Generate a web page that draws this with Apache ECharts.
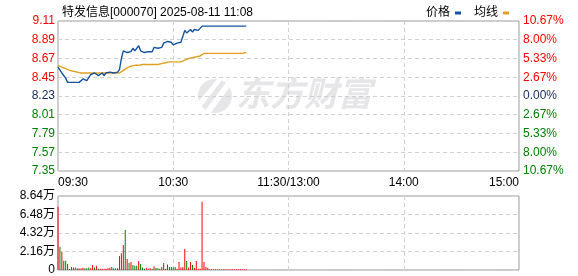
<!DOCTYPE html>
<html><head><meta charset="utf-8">
<script src="https://cdn.jsdelivr.net/npm/echarts@6/dist/echarts.min.js"></script>
<style>html,body{margin:0;padding:0;background:#fff}#c{width:578px;height:276px}</style>
</head><body><div id="c"></div>
<script>
const titleText = '特发信息[000070] 2025-08-11 11:08';
const preClose = 8.23;
const xTickLabels = ['09:30', '10:30', '11:30/13:00', '14:00', '15:00'];
const priceTicks = ['7.35','7.57','7.79','8.01','8.23','8.45','8.67','8.89','9.11'];
const pctTicks = ['10.67%','8.00%','5.33%','2.67%','0.00%','2.67%','5.33%','8.00%','10.67%'];
const volTicks = ['0','2.16万','4.32万','6.48万','8.64万'];

const price = [
 8.57,8.59,8.50,8.51,8.44,8.39,8.40,8.39,8.38,8.39,
 8.38,8.39,8.41,8.43,8.42,8.41,8.39,8.48,8.50,8.50,
 8.49,8.47,8.46,8.50,8.47,8.50,8.48,8.51,8.53,8.50,
 8.50,8.51,8.54,8.67,8.76,8.77,8.74,8.74,8.75,8.79,
 8.76,8.77,8.82,8.76,8.77,8.74,8.76,8.75,8.73,8.75,
 8.80,8.79,8.79,8.79,8.80,8.85,8.84,8.87,8.85,8.86,
 8.83,8.82,8.85,8.84,8.86,8.88,9.00,8.97,8.98,9.01,
 8.98,9.01,8.99,9.00,8.98,9.05,9.05,9.05,9.05,9.05,
 9.05,9.05,9.05,9.05,9.05,9.05,9.05,9.05,9.05,9.05,
 9.05,9.05,9.05,9.05,9.05,9.05,9.05,9.05,9.05
];
const avgLine = [
 8.59,8.58,8.57,8.56,8.55,8.54,8.53,8.53,8.52,8.52,
 8.51,8.51,8.50,8.50,8.50,8.50,8.50,8.50,8.50,8.50,
 8.50,8.50,8.50,8.50,8.50,8.50,8.50,8.50,8.50,8.50,
 8.50,8.50,8.50,8.51,8.53,8.55,8.56,8.57,8.58,8.58,
 8.59,8.59,8.59,8.60,8.60,8.60,8.60,8.60,8.60,8.60,
 8.60,8.60,8.60,8.61,8.61,8.62,8.62,8.62,8.63,8.63,
 8.63,8.63,8.63,8.63,8.63,8.64,8.65,8.66,8.67,8.67,
 8.68,8.68,8.69,8.69,8.70,8.72,8.73,8.73,8.73,8.73,
 8.73,8.73,8.73,8.73,8.73,8.73,8.73,8.73,8.73,8.73,
 8.73,8.73,8.73,8.73,8.73,8.73,8.73,8.73,8.74
];
// volume in 万 shares
const volume = [
 7.39,2.72,2.14,1.09,1.09,0.70,0.12,0.35,0.30,0.30,
 0.20,0.20,0.20,0.25,0.20,0.20,0.30,0.20,0.58,0.30,
 0.50,0.15,0.15,0.15,0.15,0.15,0.20,0.25,0.35,0.20,
 0.20,0.20,1.63,1.95,2.92,4.67,1.28,0.82,0.93,0.58,
 0.50,0.50,1.05,0.70,0.30,0.15,0.25,0.15,0.20,0.15,
 0.45,0.25,0.20,0.15,0.35,0.82,0.15,0.65,0.35,0.35,
 0.30,0.35,0.15,0.93,0.30,0.35,2.45,1.05,0.30,0.93,
 0.58,0.25,1.05,0.15,0.15,7.97,0.93,0.35,0.25,0.10,
 0.10,0.10,0.10,0.10,0.10,0.10,0.10,0.10,0.10,0.10,
 0.10,0.10,0.10,0.10,0.10,0.10,0.10,0.10,0.10
];
// 'u' = up (red), 'd' = down (green)
const volDir = [
 'u','d','u','d','d','u','d','d','u','d',
 'd','u','u','u','d','d','d','u','u','d',
 'u','d','u','u','u','u','u','u','d','d',
 'd','u','u','u','u','d','u','d','u','d',
 'd','d','u','d','d','d','u','u','u','d',
 'u','d','d','u','d','u','u','u','d','d',
 'd','d','u','u','u','u','u','d','u','u',
 'd','u','u','u','u','u','u','u','u','u',
 'u','u','u','u','u','u','u','u','u','u',
 'u','u','u','u','u','u','u','u','u'
];

const RED = '#ff0000', GREEN = '#008000', NEUTRAL = '#14285a';
const FONT = '"Liberation Sans", Arial, "Noto Sans CJK SC", sans-serif';
function levelColor(v) {
  if (Math.abs(v - preClose) < 0.005) return NEUTRAL;
  return v > preClose ? RED : GREEN;
}

const chart = echarts.init(document.getElementById('c'), null, {renderer: 'canvas'});
const dashed = {show: true, lineStyle: {color: '#d0d0d0', type: [4, 3], width: 1}};
const WM = '#e6e6e9';

chart.setOption({
  animation: false,
  backgroundColor: '#fff',
  title: {
    text: titleText, left: 57, top: 2,
    textStyle: {fontSize: 12, fontWeight: 'normal', color: '#000', fontFamily: FONT}
  },
  legend: {
    right: 64, top: 2, align: 'right', itemWidth: 6, itemHeight: 3, itemGap: 13,
    icon: 'rect',
    textStyle: {fontSize: 12, color: '#000', fontFamily: FONT},
    data: ['价格', '均线']
  },
  graphic: [{
    type: 'text', left: 236, top: 76, z: 0, silent: true,
    style: {text: '东方财富', font: 'italic bold 34px "Noto Sans CJK SC"', fill: WM}
  }, {
    type: 'group', left: 198, top: 78, z: 0, silent: true,
    children: [
      {type: 'circle', shape: {cx: 17, cy: 18, r: 17}, style: {fill: WM}},
      {type: 'polygon', shape: {points: [[6, 34], [30, 2], [34, 6], [12, 36]]}, style: {fill: '#fff'}},
      {type: 'polygon', shape: {points: [[0, 24], [20, 0], [24, 2], [3, 29]]}, style: {fill: '#fff'}}
    ]
  }],
  grid: [
    {left: 58, right: 59, top: 21, height: 150, show: true, borderColor: '#999', borderWidth: 1, backgroundColor: 'transparent'},
    {left: 58, right: 59, top: 196, height: 74, show: true, borderColor: '#999', borderWidth: 1, backgroundColor: 'transparent'}
  ],
  xAxis: [
    {type: 'value', gridIndex: 0, min: 0, max: 240, interval: 60,
     axisLine: {show: false}, axisTick: {show: false}, splitLine: dashed,
     axisLabel: {margin: 6, fontSize: 12, color: '#000', fontFamily: FONT,
       alignMinLabel: 'left', alignMaxLabel: 'right',
       formatter: v => xTickLabels[Math.round(v / 60)]}},
    {type: 'value', gridIndex: 1, min: 0, max: 240, interval: 60,
     axisLine: {show: false}, axisTick: {show: false}, splitLine: dashed,
     axisLabel: {show: false}}
  ],
  yAxis: [
    {type: 'value', gridIndex: 0, min: 7.35, max: 9.11, interval: 0.22,
     axisLine: {show: false}, axisTick: {show: false}, splitLine: dashed,
     axisLabel: {margin: 3, fontSize: 12, fontFamily: FONT,
       formatter: (v, i) => priceTicks[i] !== undefined ? priceTicks[i] : v.toFixed(2),
       color: v => levelColor(v)}},
    {type: 'value', gridIndex: 0, min: 7.35, max: 9.11, interval: 0.22, position: 'right',
     axisLine: {show: false}, axisTick: {show: false}, splitLine: {show: false},
     axisLabel: {margin: 4, fontSize: 12, fontFamily: FONT,
       formatter: (v, i) => pctTicks[i] !== undefined ? pctTicks[i] : '',
       color: v => levelColor(v)}},
    {type: 'value', gridIndex: 1, min: 0, max: 8.64, interval: 2.16,
     axisLine: {show: false}, axisTick: {show: false}, splitLine: dashed,
     axisLabel: {margin: 3, fontSize: 12, color: '#000', fontFamily: FONT,
       formatter: (v, i) => volTicks[i] !== undefined ? volTicks[i] : String(v)}}
  ],
  series: [
    {name: '价格', type: 'line', xAxisIndex: 0, yAxisIndex: 0, symbol: 'none', z: 4,
     lineStyle: {color: '#1552a0', width: 1.4}, itemStyle: {color: '#1552a0'},
     data: price.map((v, i) => [i, v])},
    {name: '均线', type: 'line', xAxisIndex: 0, yAxisIndex: 0, symbol: 'none', z: 3,
     lineStyle: {color: '#e0a020', width: 1.4}, itemStyle: {color: '#e0a020'},
     data: avgLine.map((v, i) => [i, v])},
    {name: '成交量', type: 'bar', xAxisIndex: 1, yAxisIndex: 2, barWidth: 1, z: 3,
     data: volume.map((v, i) => ({value: [i, v], itemStyle: {color: volDir[i] === 'u' ? RED : GREEN}}))}
  ]
});
</script></body></html>
